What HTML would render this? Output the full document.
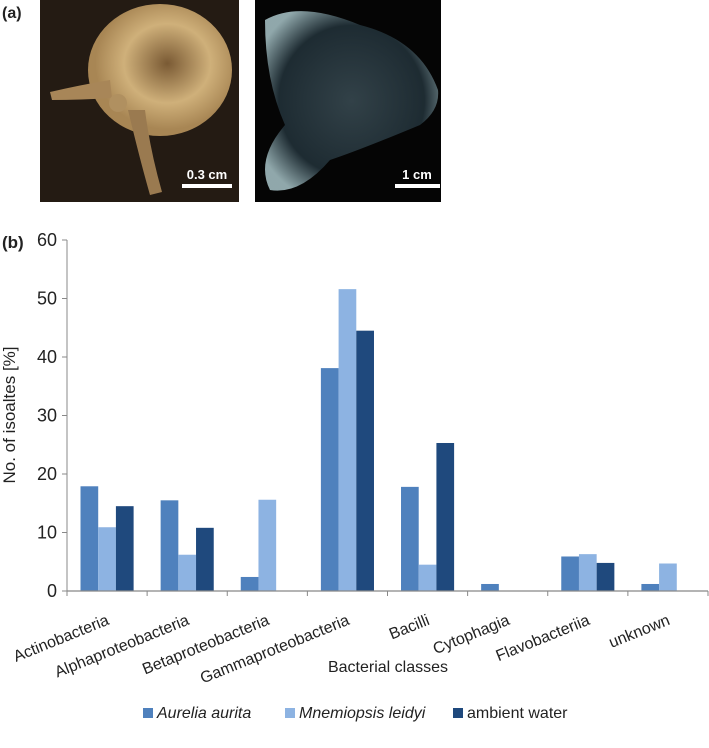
<!DOCTYPE html>
<html><head><meta charset="utf-8"><style>
body{margin:0;background:#fff;width:709px;height:743px;overflow:hidden;font-family:"Liberation Sans",sans-serif}
</style></head><body>
<svg width="709" height="743" xmlns="http://www.w3.org/2000/svg">
<defs>
<radialGradient id="jg" cx="0.55" cy="0.45" r="0.5"><stop offset="0" stop-color="#7a5a34"/><stop offset="0.6" stop-color="#cfb07a"/><stop offset="1" stop-color="#a88654"/></radialGradient>
<radialGradient id="cg" cx="0.5" cy="0.5" r="0.6"><stop offset="0" stop-color="#3a4c54"/><stop offset="0.7" stop-color="#22323a"/><stop offset="1" stop-color="#a8c4c8"/></radialGradient>
</defs>
<text x="2" y="18" font-size="16" font-weight="bold" fill="#222">(a)</text>
<g>
<rect x="40" y="0" width="199" height="202" fill="#241b13"/>
<ellipse cx="160" cy="70" rx="72" ry="66" fill="url(#jg)"/>
<path d="M50 92 Q80 85 110 80 L112 98 Q80 100 52 100 Z" fill="#a88658"/>
<path d="M128 110 Q140 160 150 195 L162 192 Q150 150 145 110 Z" fill="#9a7a50"/>
<circle cx="118" cy="103" r="9" fill="#b09060"/>
<rect x="182" y="184" width="50" height="4" fill="#fff"/>
<text x="207" y="179" font-size="13" font-weight="bold" fill="#fff" text-anchor="middle">0.3 cm</text>
</g>
<g>
<rect x="255" y="0" width="186" height="202" fill="#050505"/>
<path d="M265 20 Q300 0 360 25 Q420 40 438 90 Q440 110 420 125 Q360 150 330 160 Q300 195 270 190 Q255 160 285 125 Q265 80 265 20 Z" fill="url(#cg)" opacity="0.85"/>
<rect x="395" y="184" width="45" height="4" fill="#fff"/>
<text x="417" y="179" font-size="13" font-weight="bold" fill="#fff" text-anchor="middle">1 cm</text>
</g>
<text x="2" y="248" font-size="17" font-weight="bold" fill="#222">(b)</text>
<g id="chart"></g>
<text x="388" y="672" font-size="16" fill="#222" text-anchor="middle">Bacterial classes</text>
<text transform="translate(15,415) rotate(-90)" font-size="17" fill="#222" text-anchor="middle">No. of isoaltes [%]</text>
<g font-size="16" fill="#222">
<g><rect x="143" y="708" width="10" height="10" fill="#4f81bd"/><text x="157" y="718" font-style="italic">Aurelia aurita</text></g>
<g><rect x="285" y="708" width="10" height="10" fill="#8db3e2"/><text x="299" y="718" font-style="italic">Mnemiopsis leidyi</text></g>
<g><rect x="453" y="708" width="10" height="10" fill="#1f497d"/><text x="467" y="718">ambient water</text></g>
</g>
</svg>
<script>
const categories=["Actinobacteria","Alphaproteobacteria","Betaproteobacteria","Gammaproteobacteria","Bacilli","Cytophagia","Flavobacteriia","unknown"];
const aurelia=[17.9,15.5,2.4,38.1,17.8,1.2,5.9,1.2];
const mnemiopsis=[10.9,6.2,15.6,51.6,4.5,0,6.3,4.7];
const ambient=[14.5,10.8,0,44.5,25.3,0,4.8,0];
const yTicks=[0,10,20,30,40,50,60];
const NS="http://www.w3.org/2000/svg";
const g=document.getElementById("chart");
const x0=67,x1=708,y0=591,yTop=240,ymax=60;
const cw=(x1-x0)/categories.length,bw=17.7;
const y=v=>y0-(v/ymax)*(y0-yTop);
const xc=i=>x0+cw*(i+0.5);
function mk(t,a){const e=document.createElementNS(NS,t);for(const k in a)e.setAttribute(k,a[k]);g.appendChild(e);return e;}
const series=[[aurelia,"#4f81bd","aurelia"],[mnemiopsis,"#8db3e2","mnemiopsis"],[ambient,"#1f497d","ambient"]];
series.forEach((s,si)=>{s[0].forEach((v,i)=>{
 const r=mk("rect",{x:xc(i)+(si-1.5)*bw,y:y(v),width:bw,height:y0-y(v),fill:s[1]});
 
 
});});
const ya=mk("line",{x1:x0,y1:yTop,x2:x0,y2:y0,stroke:"#888","stroke-width":1});


const xa=mk("line",{x1:x0,y1:y0,x2:x1,y2:y0,stroke:"#888","stroke-width":1.3});


yTicks.forEach(t=>{
 mk("line",{x1:x0-5,y1:y(t),x2:x0,y2:y(t),stroke:"#888"});
 const tx=mk("text",{x:x0-10,y:y(t)+6,"font-size":18,fill:"#222","text-anchor":"end"});
 tx.textContent=t;
 
 
});
for(let i=0;i<=categories.length;i++)mk("line",{x1:x0+cw*i,y1:y0,x2:x0+cw*i,y2:y0+5,stroke:"#888"});
categories.forEach((c,i)=>{
 const tx=mk("text",{transform:`translate(${xc(i)+3},${y0+33}) rotate(-22)`,"font-size":16,fill:"#222","text-anchor":"end"});
 tx.textContent=c;
 
 
});
</script>
</body></html>
